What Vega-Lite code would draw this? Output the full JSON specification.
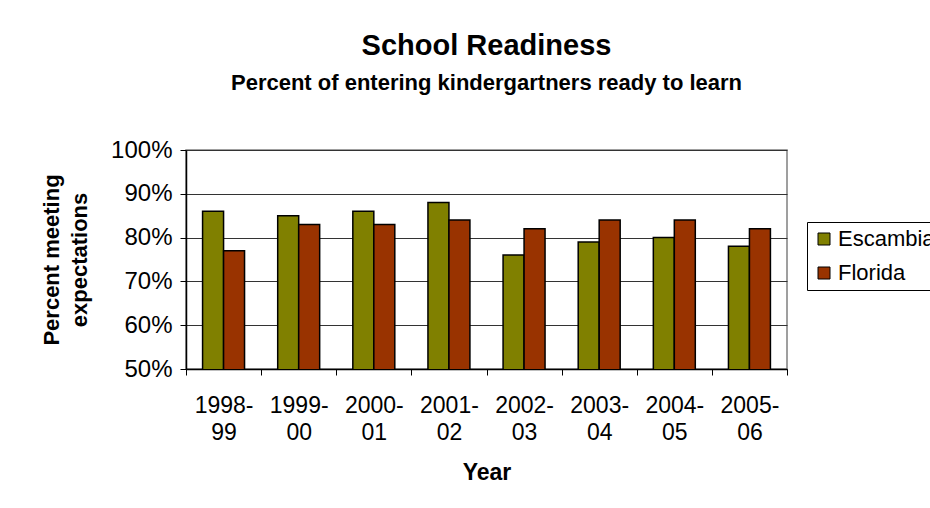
{
  "$schema": "https://vega.github.io/schema/vega-lite/v6.json",
  "width": 601,
  "height": 219,
  "autosize": {"type": "none"},
  "padding": {"left": 186, "top": 150, "right": 143, "bottom": 139},
  "background": "white",
  "title": {
    "text": "School Readiness",
    "subtitle": "Percent of entering kindergartners ready to learn",
    "anchor": "middle",
    "frame": "group",
    "font": "Liberation Sans",
    "fontSize": 29,
    "fontWeight": "bold",
    "color": "black",
    "subtitleFont": "Liberation Sans",
    "subtitleFontSize": 22,
    "subtitleFontWeight": "bold",
    "subtitleColor": "black",
    "subtitlePadding": 12,
    "offset": 44
  },
  "data": {
    "values": [
      {"year": "1998-99", "region": "Escambia", "pct": 0.86},
      {"year": "1998-99", "region": "Florida", "pct": 0.77},
      {"year": "1999-00", "region": "Escambia", "pct": 0.85},
      {"year": "1999-00", "region": "Florida", "pct": 0.83},
      {"year": "2000-01", "region": "Escambia", "pct": 0.86},
      {"year": "2000-01", "region": "Florida", "pct": 0.83},
      {"year": "2001-02", "region": "Escambia", "pct": 0.88},
      {"year": "2001-02", "region": "Florida", "pct": 0.84},
      {"year": "2002-03", "region": "Escambia", "pct": 0.76},
      {"year": "2002-03", "region": "Florida", "pct": 0.82},
      {"year": "2003-04", "region": "Escambia", "pct": 0.79},
      {"year": "2003-04", "region": "Florida", "pct": 0.84},
      {"year": "2004-05", "region": "Escambia", "pct": 0.80},
      {"year": "2004-05", "region": "Florida", "pct": 0.84},
      {"year": "2005-06", "region": "Escambia", "pct": 0.78},
      {"year": "2005-06", "region": "Florida", "pct": 0.82}
    ]
  },
  "mark": {"type": "bar", "stroke": "black", "strokeWidth": 1.5, "clip": true},
  "encoding": {
    "x": {
      "field": "year",
      "type": "nominal",
      "scale": {"paddingInner": 0, "paddingOuter": 0},
      "axis": {
        "title": "Year",
        "titleFont": "Liberation Sans",
        "titleFontSize": 23,
        "titleFontWeight": "bold",
        "titleColor": "black",
        "titlePadding": 17,
        "labelAngle": 0,
        "labelFont": "Liberation Sans",
        "labelFontSize": 23,
        "labelColor": "black",
        "labelPadding": 19,
        "labelLineHeight": 27.5,
        "labelExpr": "[slice(datum.label, 0, 5), slice(datum.label, 5)]",
        "tickBand": "extent",
        "tickSize": 6,
        "tickColor": "black",
        "domainColor": "black",
        "domainWidth": 1.5,
        "grid": false
      }
    },
    "xOffset": {
      "field": "region",
      "type": "nominal",
      "scale": {"paddingInner": 0, "paddingOuter": 0.79}
    },
    "y": {
      "field": "pct",
      "type": "quantitative",
      "scale": {"domain": [0.5, 1], "zero": false},
      "axis": {
        "title": ["Percent meeting", "expectations"],
        "titleFont": "Liberation Sans",
        "titleFontSize": 22,
        "titleFontWeight": "bold",
        "titleColor": "black",
        "titlePadding": 19,
        "titleLineHeight": 28,
        "values": [0.5, 0.6, 0.7, 0.8, 0.9, 1.0],
        "format": ".0%",
        "labelFont": "Liberation Sans",
        "labelFontSize": 24,
        "labelColor": "black",
        "labelPadding": 8,
        "tickSize": 6,
        "tickColor": "black",
        "domainColor": "black",
        "domainWidth": 1.5,
        "grid": true,
        "gridColor": "#333333",
        "gridWidth": 1
      }
    },
    "color": {
      "field": "region",
      "type": "nominal",
      "scale": {"domain": ["Escambia", "Florida"], "range": ["#808000", "#993300"]},
      "legend": {
        "title": null,
        "orient": "none",
        "legendX": 621,
        "legendY": 72,
        "strokeColor": "black",
        "fillColor": "white",
        "padding": 6,
        "labelFont": "Liberation Sans",
        "labelFontSize": 22,
        "labelColor": "black",
        "labelLimit": 300,
        "labelOffset": 3,
        "symbolType": "square",
        "symbolSize": 144,
        "symbolStrokeColor": "black",
        "symbolStrokeWidth": 1,
        "symbolOpacity": 1,
        "rowPadding": 12
      }
    }
  },
  "config": {
    "view": {"stroke": "#808080", "strokeWidth": 1.5},
    "legend": {"symbolFillColor": null}
  }
}
